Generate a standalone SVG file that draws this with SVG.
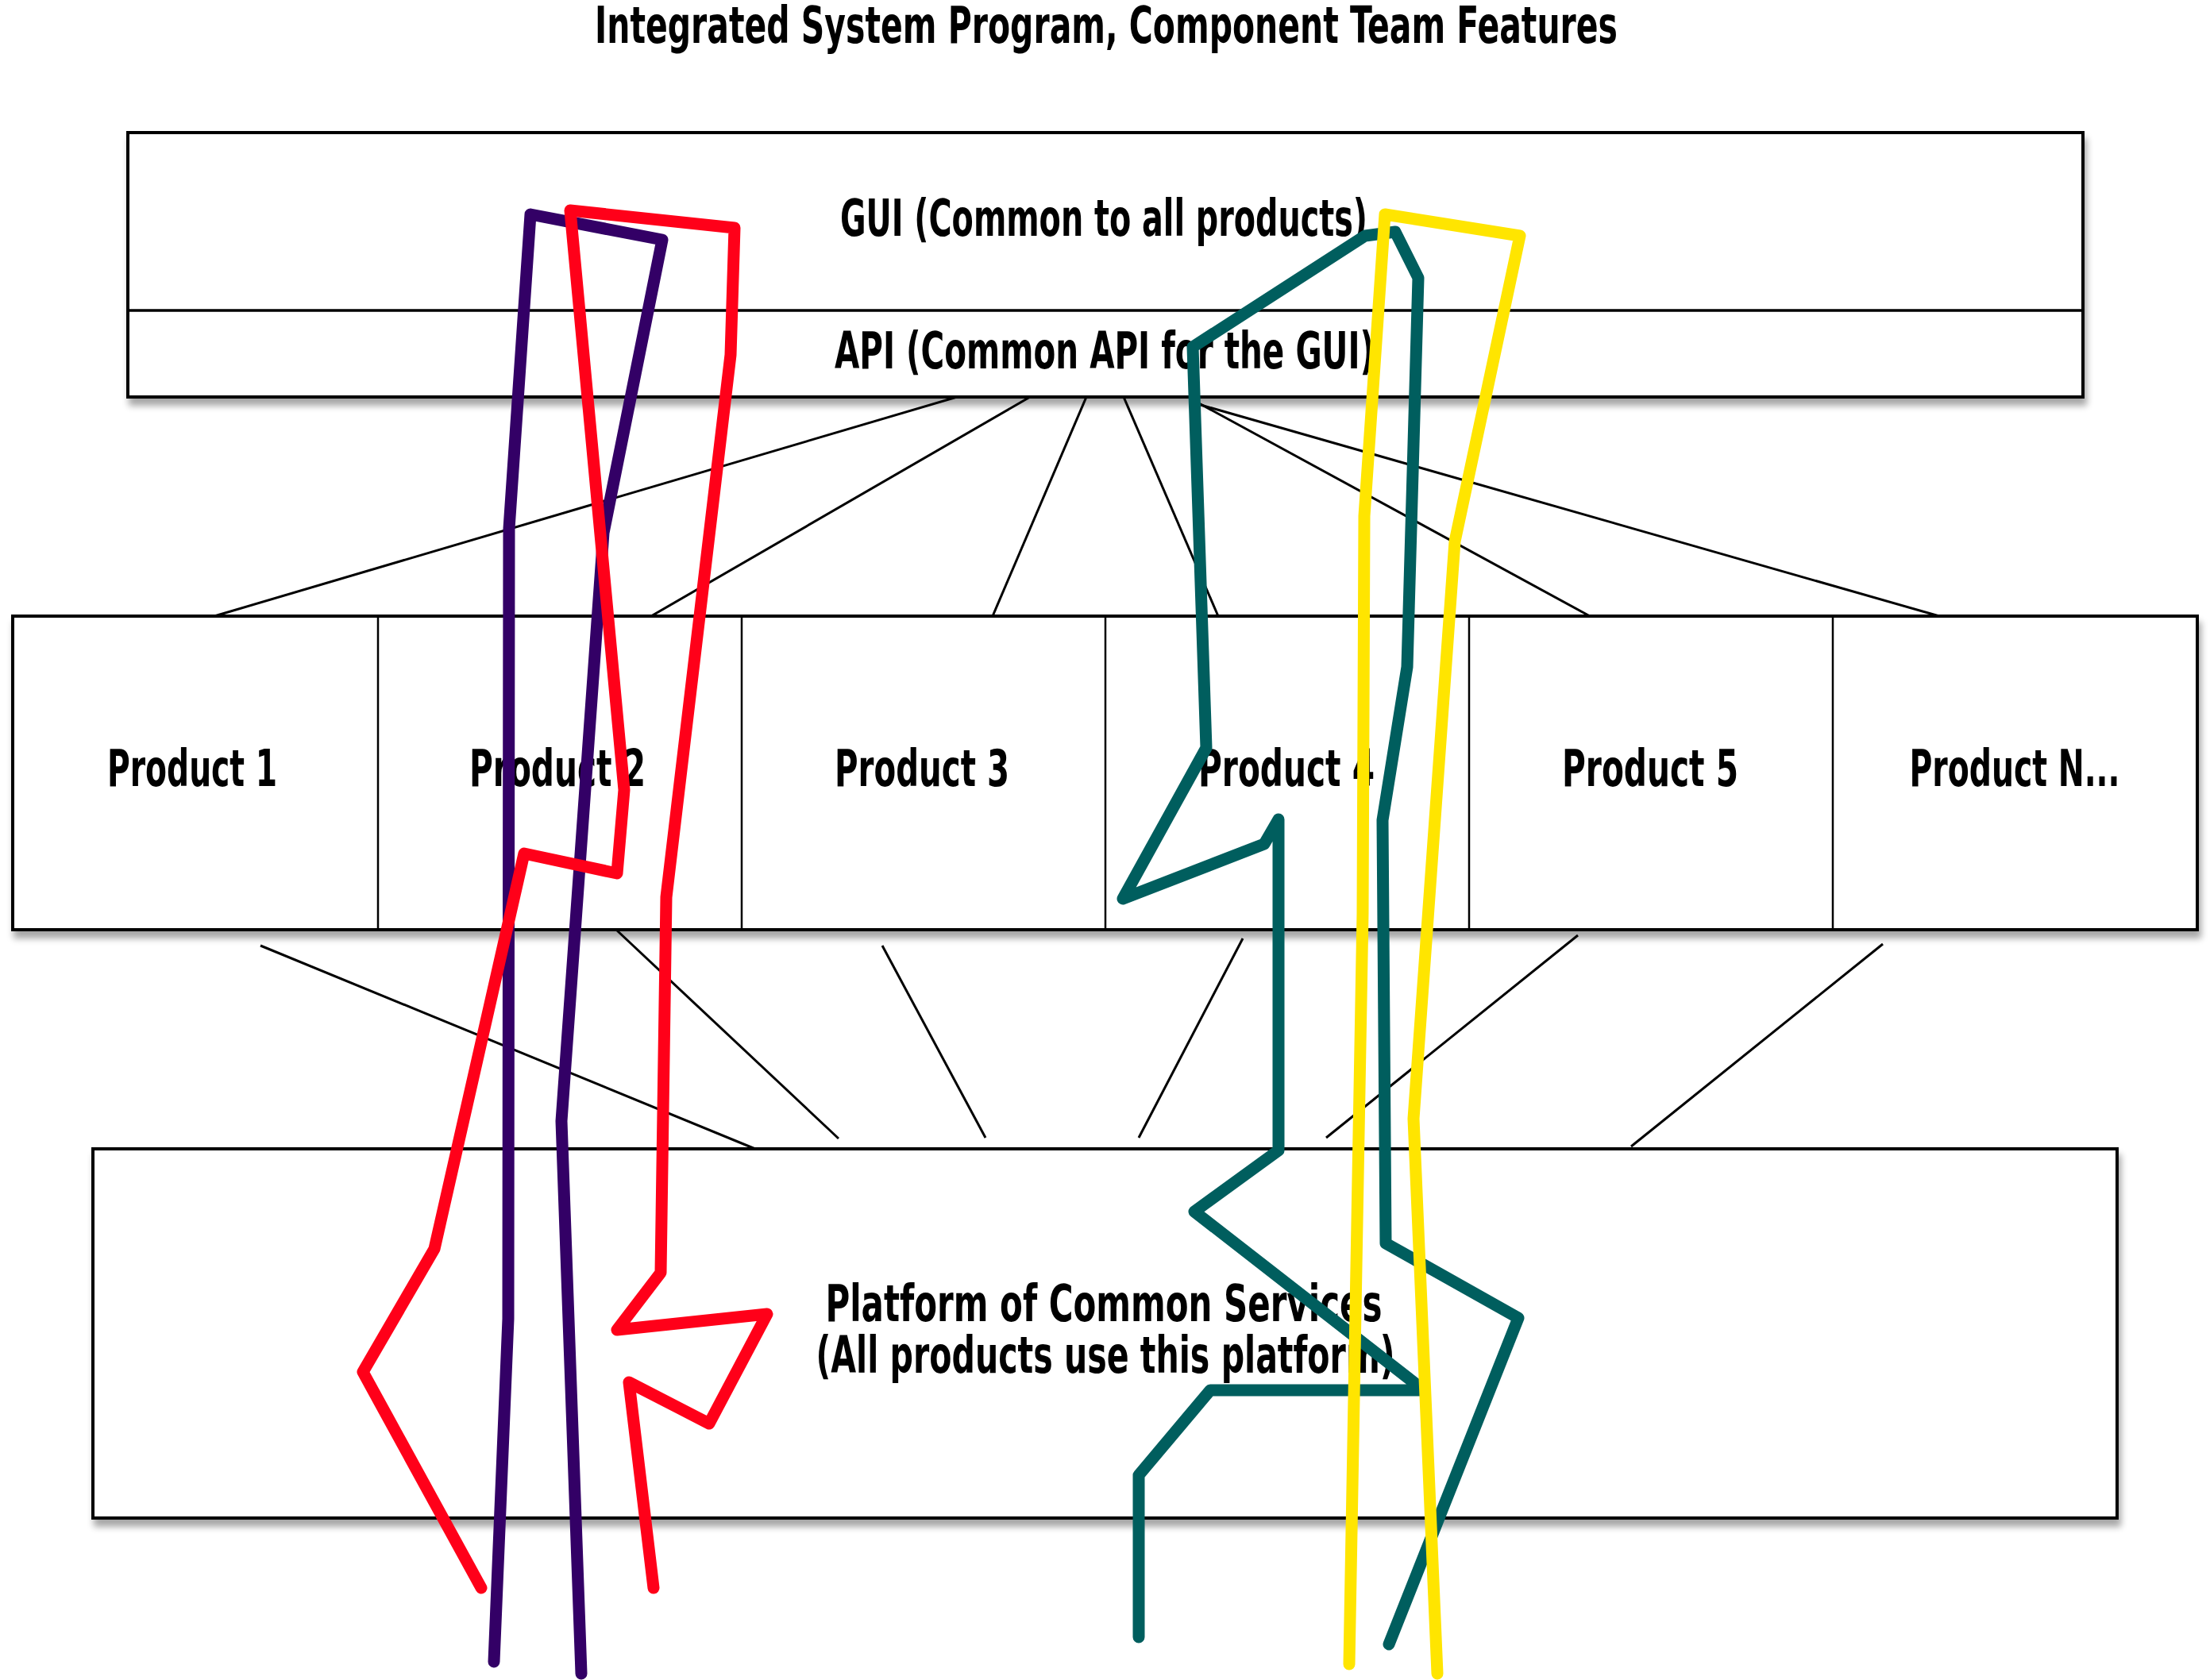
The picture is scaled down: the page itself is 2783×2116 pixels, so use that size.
<svg xmlns="http://www.w3.org/2000/svg" width="2783" height="2116" viewBox="0 0 2783 2116">
<style>
.lbl{font-family:"Liberation Sans Narrow","DejaVu Sans Condensed","Liberation Sans",sans-serif;font-weight:bold;font-size:64px;fill:#000;text-anchor:middle}
.box{fill:#fff;stroke:#000;stroke-width:4}
.div{stroke:#000;stroke-width:2.5;fill:none}
.conn{stroke:#000;stroke-width:3;fill:none}
.pen{fill:none;stroke-width:15;stroke-linecap:round;stroke-linejoin:round}
</style>
<defs>
<filter id="sh" x="-5%" y="-10%" width="110%" height="130%">
<feGaussianBlur in="SourceAlpha" stdDeviation="4"/>
<feOffset dx="3" dy="9" result="b"/>
<feComponentTransfer><feFuncA type="linear" slope="0.35"/></feComponentTransfer>
<feMerge><feMergeNode/><feMergeNode in="SourceGraphic"/></feMerge>
</filter>
</defs>
<rect width="2783" height="2116" fill="#fff"/>
<text class="lbl" x="1393" y="54" textLength="1288" lengthAdjust="spacingAndGlyphs">Integrated System Program, Component Team Features</text>

<g id="gui-api">
<rect class="box" x="161" y="167" width="2462" height="333" filter="url(#sh)"/>
<line class="div" x1="161" y1="391" x2="2623" y2="391" style="stroke-width:3.5"/>
<text class="lbl" x="1390" y="297" textLength="664" lengthAdjust="spacingAndGlyphs">GUI (Common to all products)</text>
<text class="lbl" x="1391" y="464" textLength="680" lengthAdjust="spacingAndGlyphs">API (Common API for the GUI)</text>
</g>

<g id="products">
<rect class="box" x="16" y="776" width="2751" height="395" filter="url(#sh)"/>
<line class="div" x1="476" y1="776" x2="476" y2="1171"/>
<line class="div" x1="934" y1="776" x2="934" y2="1171"/>
<line class="div" x1="1392" y1="776" x2="1392" y2="1171"/>
<line class="div" x1="1850" y1="776" x2="1850" y2="1171"/>
<line class="div" x1="2308" y1="776" x2="2308" y2="1171"/>
<g id="product1"><text class="lbl" x="242" y="990" textLength="214" lengthAdjust="spacingAndGlyphs">Product 1</text></g>
<g id="product2"><text class="lbl" x="702" y="990" textLength="222" lengthAdjust="spacingAndGlyphs">Product 2</text></g>
<g id="product3"><text class="lbl" x="1161" y="990" textLength="220" lengthAdjust="spacingAndGlyphs">Product 3</text></g>
<g id="product4"><text class="lbl" x="1620" y="990" textLength="222" lengthAdjust="spacingAndGlyphs">Product 4</text></g>
<g id="product5"><text class="lbl" x="2078" y="990" textLength="222" lengthAdjust="spacingAndGlyphs">Product 5</text></g>
<g id="productN"><text class="lbl" x="2537" y="990" textLength="265" lengthAdjust="spacingAndGlyphs">Product N...</text></g>
</g>

<g id="platform">
<rect class="box" x="117" y="1447" width="2549" height="465" filter="url(#sh)"/>
<text class="lbl" x="1390" y="1664" textLength="701" lengthAdjust="spacingAndGlyphs">Platform of Common Services</text>
<text class="lbl" x="1392" y="1729" textLength="729" lengthAdjust="spacingAndGlyphs">(All products use this platform)</text>
</g>

<g id="connectors">
<line class="conn" x1="1205" y1="500" x2="270" y2="776"/>
<line class="conn" x1="1297" y1="500" x2="820" y2="776"/>
<line class="conn" x1="1368" y1="500" x2="1250" y2="776"/>
<line class="conn" x1="1415" y1="500" x2="1534" y2="776"/>
<line class="conn" x1="1510" y1="508" x2="2002" y2="776"/>
<line class="conn" x1="1512" y1="510" x2="2442" y2="776"/>
<line class="conn" x1="328" y1="1191" x2="951" y2="1447"/>
<line class="conn" x1="777" y1="1172" x2="1056" y2="1434"/>
<line class="conn" x1="1111" y1="1191" x2="1241" y2="1433"/>
<line class="conn" x1="1565" y1="1182" x2="1434" y2="1433"/>
<line class="conn" x1="1987" y1="1178" x2="1670" y2="1433"/>
<line class="conn" x1="2371" y1="1189" x2="2054" y2="1444"/>
</g>

<g id="feature-paths">
<polyline class="pen" stroke="#330066" stroke-width="14" points="622,2093 640,1661 641,666 668,270 834,302 760,671 707,1412 732,2108"/>
<polyline class="pen" stroke="#FF0019" stroke-width="16" points="606,2000 457,1728 547,1573 660,1075 777,1100 786,995 718,265 925,287 920,447 839,1130 832,1603 777,1675 966,1655 893,1793 792,1741 823,2000"/>
<polyline class="pen" stroke="#005E5E" stroke-width="16" points="1434,2062 1434,1858 1524,1751 1793,1751 1504,1526 1610,1449 1610,1032 1592,1063 1414,1132 1519,942 1502,437 1719,297 1757,292 1786,350 1772,840 1741,1033 1745,1566 1912,1660 1749,2071"/>
<polyline class="pen" stroke="#FFE500" stroke-width="14" points="1699,2096 1716,1150 1718,650 1744,270 1914,297 1832,682 1780,1409 1810,2108"/>
</g>
</svg>
